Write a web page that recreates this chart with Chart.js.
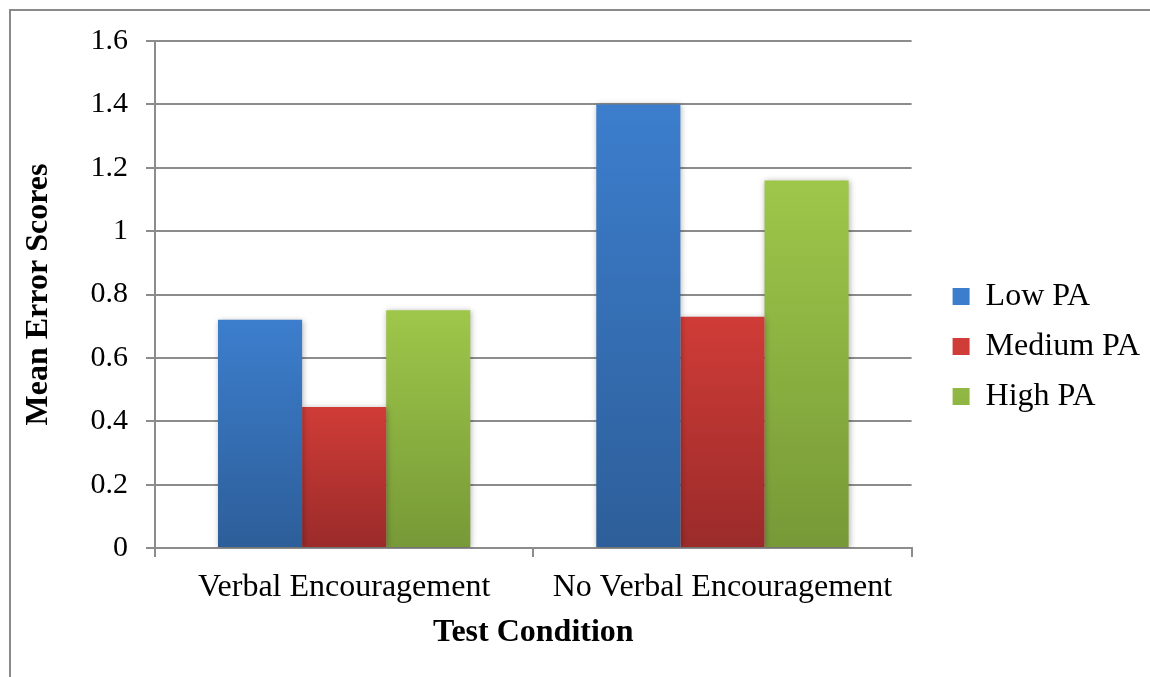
<!DOCTYPE html>
<html>
<head>
<meta charset="utf-8">
<script src="https://cdn.jsdelivr.net/npm/chart.js@4.4.1/dist/chart.umd.min.js"></script>
<style>
  html, body { margin: 0; padding: 0; background: #fff; overflow: hidden; }
  #frame { position: absolute; left: 9px; top: 9px; width: 1160px; height: 700px; border: 2px solid #8a8a8a; box-sizing: border-box; }
  #wrap { position: absolute; left: 0; top: 0; width: 1150px; height: 677px; }
</style>
</head>
<body>
<div id="frame"></div>
<div id="wrap"><canvas id="chart"></canvas></div>
<script>
// chart data
const categories = ['Verbal Encouragement', 'No Verbal Encouragement'];
const seriesNames = ['Low PA', 'Medium PA', 'High PA'];
const lowPA = [0.72, 1.40];
const mediumPA = [0.445, 0.73];
const highPA = [0.75, 1.16];
const yTicks = [0, 0.2, 0.4, 0.6, 0.8, 1, 1.2, 1.4, 1.6];
const yTickLabels = ['0', '0.2', '0.4', '0.6', '0.8', '1', '1.2', '1.4', '1.6'];

const serif = '"Liberation Serif", "Times New Roman", serif';

// vertical gradient for each bar, lighter on top
function barGradient(top, bottom) {
    return function(context) {
        const chart = context.chart;
        const y = chart.scales.y;
        if (!y || context.raw == null) return top;
        const y0 = y.getPixelForValue(context.raw);
        const y1 = y.getPixelForValue(0);
        if (!isFinite(y0) || !isFinite(y1) || y0 === y1) return top;
        const g = chart.ctx.createLinearGradient(0, y0, 0, y1);
        g.addColorStop(0, top);
        g.addColorStop(1, bottom);
        return g;
    };
}

// soft shadow behind the bars
const barShadow = {
    id: 'barShadow',
    beforeDatasetsDraw(chart) {
        const ctx = chart.ctx;
        ctx.save();
        ctx.shadowColor = 'rgba(0,0,0,0.3)';
        ctx.shadowBlur = 6;
        ctx.shadowOffsetX = 1;
        ctx.shadowOffsetY = 1;
    },
    afterDatasetsDraw(chart) {
        chart.ctx.restore();
    }
};

const ctx = document.getElementById('chart').getContext('2d');
new Chart(ctx, {
    type: 'bar',
    data: {
        labels: categories,
        datasets: [
            { label: seriesNames[0], data: lowPA, backgroundColor: barGradient('#3c7ecd', '#2d5e99'), borderWidth: 0 },
            { label: seriesNames[1], data: mediumPA, backgroundColor: barGradient('#d03c37', '#9a2b2a'), borderWidth: 0 },
            { label: seriesNames[2], data: highPA, backgroundColor: barGradient('#9ec74a', '#779937'), borderWidth: 0 }
        ]
    },
    options: {
        responsive: true,
        maintainAspectRatio: false,
        animation: false,
        layout: { padding: { left: 20, right: 0, top: 41, bottom: 25 } },
        datasets: {
            bar: { categoryPercentage: 0.667, barPercentage: 1 }
        },
        plugins: {
            tooltip: { enabled: false },
            legend: {
                position: 'right',
                maxWidth: 300,
                labels: {
                    boxWidth: 17,
                    boxHeight: 17,
                    padding: 18,
                    color: '#000',
                    font: { family: serif, size: 32 }
                }
            }
        },
        scales: {
            x: {
                grid: { display: true, drawOnChartArea: false, color: '#8c8c8c', lineWidth: 2, tickLength: 9, offset: true },
                border: { display: true, color: '#8c8c8c', width: 2 },
                ticks: { color: '#000', padding: 11, font: { family: serif, size: 32 } },
                title: { display: true, text: 'Test Condition', color: '#000', padding: { top: 0, bottom: 0 }, font: { family: serif, size: 32, weight: 'bold' } },
                afterFit: s => { s.height = 104; }
            },
            y: {
                min: 0,
                max: 1.6,
                afterBuildTicks: s => { s.ticks = yTicks.map(v => ({ value: v })); },
                grid: { color: '#8c8c8c', lineWidth: 2, tickLength: 9 },
                border: { display: true, color: '#8c8c8c', width: 2 },
                ticks: {
                    color: '#000',
                    padding: 18,
                    font: { family: serif, size: 30 },
                    callback: (v, i) => yTickLabels[i]
                },
                title: { display: true, text: 'Mean Error Scores', color: '#000', padding: { top: 0, bottom: 0 }, font: { family: serif, size: 32, weight: 'bold' } },
                afterFit: s => { s.width = 135; }
            },
            // empty spacer between plot and legend
            gap: {
                type: 'linear',
                position: 'right',
                display: true,
                grid: { display: false },
                border: { display: false },
                ticks: { display: false },
                afterFit: s => { s.width = 23; }
            }
        }
    },
    plugins: [barShadow]
});
</script>
</body>
</html>
